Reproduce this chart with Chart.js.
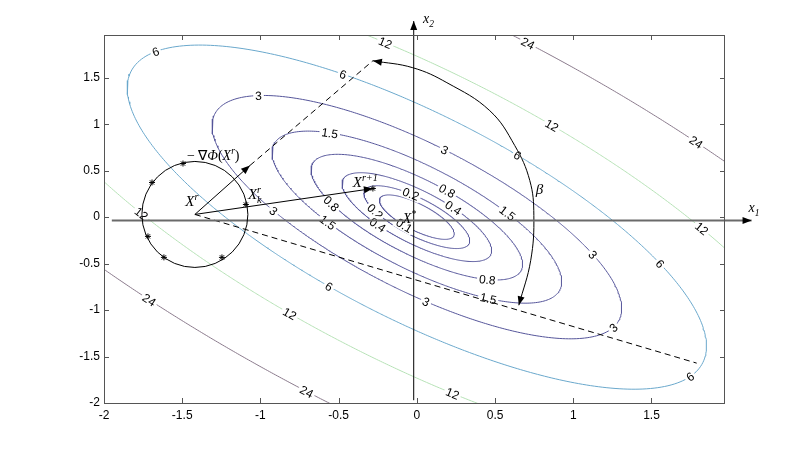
<!DOCTYPE html>
<html>
<head>
<meta charset="utf-8">
<script src="https://cdn.jsdelivr.net/npm/chart.js@4.4.0/dist/chart.umd.min.js"></script>
<style>
  html, body { margin: 0; padding: 0; background: #fff; }
</style>
</head>
<body>
<canvas id="contourChart" width="801" height="454"></canvas>
<script>
// contour levels printed on the curves
var levels = [0.1, 0.2, 0.4, 0.8, 1.5, 3, 6, 12, 24];
// objective f = a*x1^2 + b*x1*x2 + c*x2^2, fitted to where the curves cut the axes
var surfA = 4, surfB = 6, surfC = 4;
var xTicks = [-2, -1.5, -1, -0.5, 0, 0.5, 1, 1.5];
var yTicks = [-2, -1.5, -1, -0.5, 0, 0.5, 1, 1.5];

// inline labels: level, x1, x2 (snapped onto the curve when drawn)
var contourLabels = [
    [0.1, -0.10, -0.11],
    [0.2, -0.30, 0.07], [0.2, -0.03, 0.20],
    [0.4, -0.27, -0.09], [0.4, 0.21, 0.09],
    [0.8, -0.60, 0.16], [0.8, 0.17, 0.25], [0.8, 0.47, -0.70],
    [1.5, -0.54, 0.88], [1.5, -0.61, -0.06], [1.5, 0.54, 0.04], [1.5, 0.48, -0.92],
    [3, -0.99, 1.28], [3, 0.17, 0.69], [3, -0.95, 0.07], [3, 1.09, -0.39], [3, 1.28, -1.21], [3, 0.06, -0.93],
    [6, -1.66, 1.77], [6, -0.46, 1.50], [6, 0.62, 0.64], [6, 1.52, -0.49], [6, 1.76, -1.73], [6, -0.58, -0.77],
    [12, -0.20, 1.87], [12, 0.84, 0.96], [12, 1.79, -0.12], [12, -0.83, -1.06], [12, 0.23, -1.91], [12, -1.83, 0.04],
    [24, 0.71, 1.87], [24, 1.88, 0.85], [24, -1.73, -0.90], [24, -0.72, -1.92]
];

// search construction
var startPoint = [-1.419, 0.029];          // X^r
var trialPoints = [[-1.495, 0.577], [-1.693, 0.373], [-1.719, -0.207], [-1.617, -0.433], [-1.246, -0.433], [-1.093, 0.136]];
var nextPoint = [-0.281, 0.308];           // X^(r+1)
var gradTip = [-1.067, 0.556];             // -grad arrow head
var gradEnd = [-0.281, 1.683];             // end of dashed gradient line
var coneEnd = [1.789, -1.571];             // end of lower dashed line
var betaArc = [[-0.281, 1.683], [-0.026, 1.608], [0.192, 1.447], [0.466, 1.146], [0.626, 0.770],
               [0.722, 0.394], [0.748, 0.018], [0.728, -0.465], [0.652, -0.948]];
var x1Axis = [[-1.95, -0.035], [2.14, -0.035]];
var x2Axis = [[-0.02, -1.97], [-0.02, 2.11]];

function levelColor(L) {
    if (L <= 3) return '#55559a';
    if (L <= 6) return '#6aa8cc';
    if (L <= 12) return '#b6e2b6';
    return '#8a7a8c';
}

function f(x, y) { return surfA * x * x + surfB * x * y + surfC * y * y; }

function contourPoints(L) {
    var pts = [];
    for (var i = 0; i <= 720; i++) {
        var t = i / 720 * 2 * Math.PI;
        var c = Math.cos(t), s = Math.sin(t);
        var r = Math.sqrt(L / f(c, s));
        pts.push({ x: r * c, y: r * s });
    }
    return pts;
}

function pts(list) {
    return list.map(function (p) { return { x: p[0], y: p[1] }; });
}

var datasets = [];
datasets.push({ data: pts([startPoint]), pointStyle: 'circle', pointRadius: 53, borderColor: '#000', backgroundColor: 'rgba(0,0,0,0)', borderWidth: 1, clip: false });
datasets.push({ data: pts(trialPoints.concat([nextPoint])), pointStyle: 'star', pointRadius: 3, borderColor: '#000', borderWidth: 1 });
datasets.push({ data: pts(x1Axis), showLine: true, pointRadius: 0, borderColor: '#6a6a6a', borderWidth: 2, clip: false });
datasets.push({ data: pts(x2Axis), showLine: true, pointRadius: 0, borderColor: '#000', borderWidth: 1, clip: false });
datasets.push({ data: pts([startPoint, gradTip]), showLine: true, pointRadius: 0, borderColor: '#000', borderWidth: 1 });
datasets.push({ data: pts([gradTip, gradEnd]), showLine: true, pointRadius: 0, borderColor: '#000', borderWidth: 1, borderDash: [6, 4] });
datasets.push({ data: pts([startPoint, nextPoint]), showLine: true, pointRadius: 0, borderColor: '#000', borderWidth: 1 });
datasets.push({ data: pts([startPoint, coneEnd]), showLine: true, pointRadius: 0, borderColor: '#000', borderWidth: 1, borderDash: [6, 4] });
datasets.push({ data: pts(betaArc), showLine: true, pointRadius: 0, borderColor: '#000', borderWidth: 1, tension: 0.4 });
levels.forEach(function (L) {
    datasets.push({ data: contourPoints(L), showLine: true, pointRadius: 0, borderColor: levelColor(L), borderWidth: 1, isContour: true });
});

var arrows = [
    { from: x1Axis[0], to: x1Axis[1] },
    { from: x2Axis[0], to: x2Axis[1] },
    { from: startPoint, to: gradTip },
    { from: startPoint, to: nextPoint },
    { from: betaArc[1], to: betaArc[0] },
    { from: betaArc[betaArc.length - 2], to: betaArc[betaArc.length - 1] }
];

// math labels: runs of [text, style] with style '', 'i', 'sup', 'sub'
var texts = [
    { at: [0.04, 2.09], size: 14, runs: [['x', 'i'], ['2', 'sub']] },
    { at: [2.12, 0.05], size: 14, runs: [['x', 'i'], ['1', 'sub']] },
    { at: [-1.47, 0.61], size: 14, runs: [['\u2212 \u2207', ''], ['\u03A6', 'i'], ['(', ''], ['X', 'i'], ['r', 'sup'], [')', '']] },
    { at: [-1.48, 0.115], size: 15, runs: [['X', 'i'], ['r', 'sup']] },
    { at: [-1.08, 0.19], size: 15, runs: [['X', 'i'], ['r', 'supk'], ['k', 'sub']] },
    { at: [-0.41, 0.32], size: 15, runs: [['X', 'i'], ['r+1', 'sup']] },
    { at: [-0.09, -0.065], size: 14, runs: [['X', 'i'], ['*', 'sup']] },
    { at: [0.76, 0.25], size: 15, runs: [['\u03B2', 'i']] }
];

var drawnLabels = false;

var contourLabelPlugin = {
    id: 'contourLabels',
    beforeDatasetsDraw: function () { drawnLabels = false; },
    beforeDatasetDraw: function (chart, args) {
        if (drawnLabels || args.meta._dataset.isContour) return;
        drawnLabels = true;
        var ctx = chart.ctx, xs = chart.scales.x, ys = chart.scales.y;
        var kx = xs.getPixelForValue(1) - xs.getPixelForValue(0);
        var ky = ys.getPixelForValue(0) - ys.getPixelForValue(1);
        ctx.save();
        ctx.beginPath();
        ctx.rect(chart.chartArea.left, chart.chartArea.top, chart.chartArea.width, chart.chartArea.height);
        ctx.clip();
        ctx.font = '12px "Liberation Sans", Arial, sans-serif';
        ctx.textAlign = 'center';
        ctx.textBaseline = 'middle';
        contourLabels.forEach(function (lb) {
            var L = lb[0], s = Math.sqrt(L / f(lb[1], lb[2]));
            var x = lb[1] * s, y = lb[2] * s;
            var gx = 2 * surfA * x + surfB * y, gy = surfB * x + 2 * surfC * y;
            var ang = Math.atan2(-gx * ky, -gy * kx);
            if (ang > Math.PI / 2) ang -= Math.PI;
            if (ang < -Math.PI / 2) ang += Math.PI;
            var txt = String(L);
            var w = ctx.measureText(txt).width;
            ctx.save();
            ctx.translate(xs.getPixelForValue(x), ys.getPixelForValue(y));
            ctx.rotate(ang);
            ctx.fillStyle = '#fff';
            ctx.fillRect(-w / 2 - 2, -6, w + 4, 12);
            ctx.fillStyle = '#000';
            ctx.fillText(txt, 0, 1);
            ctx.restore();
        });
        ctx.restore();
    }
};

var framePlugin = {
    id: 'frame',
    afterDatasetsDraw: function (chart) {
        var ctx = chart.ctx, a = chart.chartArea, xs = chart.scales.x, ys = chart.scales.y;
        ctx.save();
        ctx.strokeStyle = '#555';
        ctx.lineWidth = 1;
        ctx.strokeRect(Math.round(a.left) + 0.5, Math.round(a.top) + 0.5, Math.round(a.width) - 1, Math.round(a.height));
        ctx.beginPath();
        xTicks.forEach(function (v) {
            var px = Math.round(xs.getPixelForValue(v)) + 0.5;
            ctx.moveTo(px, a.bottom); ctx.lineTo(px, a.bottom - 5);
            ctx.moveTo(px, a.top); ctx.lineTo(px, a.top + 5);
        });
        yTicks.forEach(function (v) {
            var py = Math.round(ys.getPixelForValue(v)) + 0.5;
            ctx.moveTo(a.left, py); ctx.lineTo(a.left + 5, py);
            ctx.moveTo(a.right, py); ctx.lineTo(a.right - 5, py);
        });
        ctx.stroke();

        // arrow heads
        ctx.fillStyle = '#000';
        arrows.forEach(function (ar) {
            var x0 = xs.getPixelForValue(ar.from[0]), y0 = ys.getPixelForValue(ar.from[1]);
            var x1 = xs.getPixelForValue(ar.to[0]), y1 = ys.getPixelForValue(ar.to[1]);
            var t = Math.atan2(y1 - y0, x1 - x0);
            ctx.save();
            ctx.translate(x1, y1);
            ctx.rotate(t);
            ctx.beginPath();
            ctx.moveTo(0, 0);
            ctx.lineTo(-9, -3.5);
            ctx.lineTo(-9, 3.5);
            ctx.closePath();
            ctx.fill();
            ctx.restore();
        });

        // math text
        ctx.textBaseline = 'alphabetic';
        ctx.textAlign = 'left';
        texts.forEach(function (tx) {
            var px = xs.getPixelForValue(tx.at[0]), py = ys.getPixelForValue(tx.at[1]);
            var supX = null;
            tx.runs.forEach(function (r) {
                var style = r[1], size = tx.size, dy = 0, italic = style !== '';
                if (style === 'sup' || style === 'supk') { size = tx.size * 0.68; dy = -6; }
                if (style === 'sub') { size = tx.size * 0.68; dy = 4; }
                ctx.font = (italic ? 'italic ' : '') + size + 'px "Liberation Serif", "Times New Roman", serif';
                var w = ctx.measureText(r[0]).width;
                if (style === 'sub' && supX !== null) {
                    ctx.fillText(r[0], supX, py + dy);
                    return;
                }
                if (style === 'supk') supX = px;
                ctx.fillText(r[0], px, py + dy);
                px += w;
            });
        });
        ctx.restore();
    }
};

function fixedTicks(values) {
    return function (scale) {
        scale.ticks = values.map(function (v) { return { value: v }; });
    };
}

var chart = new Chart(document.getElementById('contourChart').getContext('2d'), {
    type: 'scatter',
    data: { datasets: datasets },
    options: {
        responsive: false,
        devicePixelRatio: 1,
        animation: false,
        events: [],
        layout: { autoPadding: false, padding: { top: 35, right: 76, left: 0, bottom: 0 } },
        plugins: { legend: { display: false }, tooltip: { enabled: false } },
        scales: {
            x: {
                type: 'linear', position: 'bottom', min: -2, max: 1.97, bounds: 'data',
                grid: { display: false, drawTicks: false },
                border: { display: false },
                ticks: {
                    padding: 5, color: '#000', autoSkip: false, maxRotation: 0,
                    font: { family: '"Liberation Sans", Arial, sans-serif', size: 12 },
                    callback: function (v) { return String(v); }
                },
                afterBuildTicks: fixedTicks(xTicks),
                afterFit: function (s) { s.height = 51; }
            },
            y: {
                type: 'linear', position: 'left', min: -2, max: 1.96, bounds: 'data',
                grid: { display: false, drawTicks: false },
                border: { display: false },
                ticks: {
                    padding: 4, color: '#000', autoSkip: false,
                    font: { family: '"Liberation Sans", Arial, sans-serif', size: 12 },
                    callback: function (v) { return String(v); }
                },
                afterBuildTicks: fixedTicks(yTicks),
                afterFit: function (s) { s.width = 104; }
            }
        }
    },
    plugins: [contourLabelPlugin, framePlugin]
});
</script>
</body>
</html>
